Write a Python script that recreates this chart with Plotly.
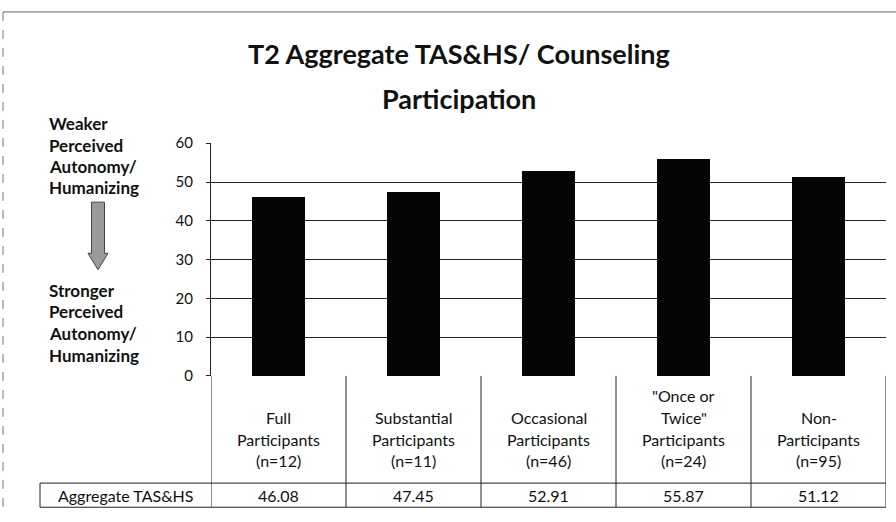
import plotly.graph_objects as go

# ---------------- data ----------------
categories = ["Full Participants (n=12)", "Substantial Participants (n=11)",
              "Occasional Participants (n=46)", "\"Once or Twice\" Participants (n=24)",
              "Non-Participants (n=95)"]
category_lines = [["Full", "Participants", "(n=12)"],
                  ["Substantial", "Participants", "(n=11)"],
                  ["Occasional", "Participants", "(n=46)"],
                  ["\"Once or", "Twice\"", "Participants", "(n=24)"],
                  ["Non-", "Participants", "(n=95)"]]
values = [46.08, 47.45, 52.91, 55.87, 51.12]
value_labels = ["46.08", "47.45", "52.91", "55.87", "51.12"]
y_ticks = [0, 10, 20, 30, 40, 50, 60]
row_label = "Aggregate TAS&HS"
title_lines = ["T2 Aggregate TAS&HS/ Counseling", "Participation"]
left_top = ["Weaker", "Perceived", "Autonomy/", "Humanizing"]
left_bottom = ["Stronger", "Perceived", "Autonomy/", "Humanizing"]

# ---------------- layout helpers ----------------
W, H = 896, 522
def fx(px):
    return px / W
def fy(py):
    return 1 - py / H

PLOT_L, PLOT_R, PLOT_T, PLOT_B = 211, 886, 138, 379
ROW_B = 490
TABLE_B = 515
LABEL_L = 40

FONT = "Lato, 'Open Sans', sans-serif"
INK = "#111111"

fig = go.Figure()
fig.add_trace(go.Bar(
    x=list(range(len(categories))), y=values,
    marker=dict(color="#050505", line=dict(width=0)),
    width=0.39, hovertext=categories, name=row_label,
))

annotations = []
shapes = []

# title
for i, t in enumerate(title_lines):
    annotations.append(dict(text=f"<b>{t}</b>", x=fx(459), y=fy(45 + i * 47),
                            xref="paper", yref="paper", showarrow=False,
                            xanchor="center", yanchor="middle",
                            font=dict(family=FONT, size=27, color=INK)))

# left side text
for i, t in enumerate(left_top):
    annotations.append(dict(text=f"<b>{t}</b>", x=fx(47), y=fy(118 + i * 22),
                            xref="paper", yref="paper", showarrow=False,
                            xanchor="left", yanchor="middle",
                            font=dict(family=FONT, size=17, color=INK)))
for i, t in enumerate(left_bottom):
    annotations.append(dict(text=f"<b>{t}</b>", x=fx(47), y=fy(290 + i * 22.5),
                            xref="paper", yref="paper", showarrow=False,
                            xanchor="left", yanchor="middle",
                            font=dict(family=FONT, size=17, color=INK)))

# down arrow (decorative)
ax, top, head, bot = 98, 199, 252, 269
sw, hw = 6.5, 10
pts = [(ax - sw, top), (ax + sw, top), (ax + sw, head), (ax + hw, head),
       (ax, bot), (ax - hw, head), (ax - sw, head)]
path = "M " + " L ".join(f"{fx(px):.5f},{fy(py):.5f}" for px, py in pts) + " Z"
shapes.append(dict(type="path", path=path, xref="paper", yref="paper",
                   fillcolor="#9a9a9a", line=dict(color="#444444", width=1)))

# table: category row (lines bottom-aligned like the reference)
n = len(categories)
last_line = 467
for i, lines in enumerate(category_lines):
    k = len(lines)
    for j, t in enumerate(lines):
        annotations.append(dict(text=t, x=i, y=fy(last_line - (k - 1 - j) * 22.5),
                                xref="x", yref="paper", showarrow=False,
                                xanchor="center", yanchor="middle",
                                font=dict(family=FONT, size=16, color=INK)))
    annotations.append(dict(text=value_labels[i], x=i, y=fy((ROW_B + TABLE_B) / 2),
                            xref="x", yref="paper", showarrow=False,
                            xanchor="center", yanchor="middle",
                            font=dict(family=FONT, size=16, color=INK)))
annotations.append(dict(text=row_label, x=fx((LABEL_L + PLOT_L) / 2), y=fy((ROW_B + TABLE_B) / 2),
                        xref="paper", yref="paper", showarrow=False,
                        xanchor="center", yanchor="middle",
                        font=dict(family=FONT, size=16, color=INK)))

line_style = dict(color="#222222", width=1)
# vertical table lines
for b in [i - 0.5 for i in range(n + 1)]:
    shapes.append(dict(type="line", xref="x", yref="paper", x0=b, x1=b,
                       y0=fy(PLOT_B), y1=fy(TABLE_B), line=line_style))
shapes.append(dict(type="line", xref="paper", yref="paper", x0=fx(LABEL_L), x1=fx(LABEL_L),
                   y0=fy(ROW_B), y1=fy(TABLE_B), line=line_style))
# horizontal table lines
for yy in [ROW_B, TABLE_B]:
    shapes.append(dict(type="line", xref="paper", yref="paper", x0=fx(LABEL_L), x1=fx(PLOT_R),
                       y0=fy(yy), y1=fy(yy), line=line_style))

# chart frame (top and left)
frame = dict(color="#777777", width=1, dash="dash")
shapes.append(dict(type="line", xref="paper", yref="paper", x0=fx(3), x1=fx(896),
                   y0=fy(2), y1=fy(2), line=dict(color="#666666", width=1)))
shapes.append(dict(type="line", xref="paper", yref="paper", x0=fx(3), x1=fx(3),
                   y0=fy(2), y1=fy(522), line=frame))

fig.update_layout(
    width=W, height=H,
    margin=dict(l=0, r=0, t=0, b=0),
    paper_bgcolor="white", plot_bgcolor="white",
    showlegend=False,
    bargap=0,
    xaxis=dict(domain=[fx(PLOT_L), fx(PLOT_R)], range=[-0.5, n - 0.5],
               showticklabels=False, showgrid=False, zeroline=False,
               showline=False, ticks=""),
    yaxis=dict(domain=[fy(PLOT_B), fy(PLOT_T)], range=[0, 60],
               tickvals=y_ticks, ticktext=[str(v) for v in y_ticks],
               showgrid=True, gridcolor="#222222", gridwidth=1,
               zeroline=False, showline=True, linecolor="#222222", linewidth=1,
               ticks="outside", ticklen=4, tickcolor="#222222",
               tickfont=dict(family=FONT, size=15, color=INK), ticklabelstandoff=10),
    annotations=annotations,
    shapes=shapes,
)

fig.write_html(
    "out.html",
    config={"displayModeBar": False},
    post_script=("document.documentElement.style.margin='0';"
                 "document.documentElement.style.padding='0';"
                 "document.body.style.margin='0';"
                 "document.body.style.padding='0';"
                 "document.body.style.overflow='hidden';"),
)
